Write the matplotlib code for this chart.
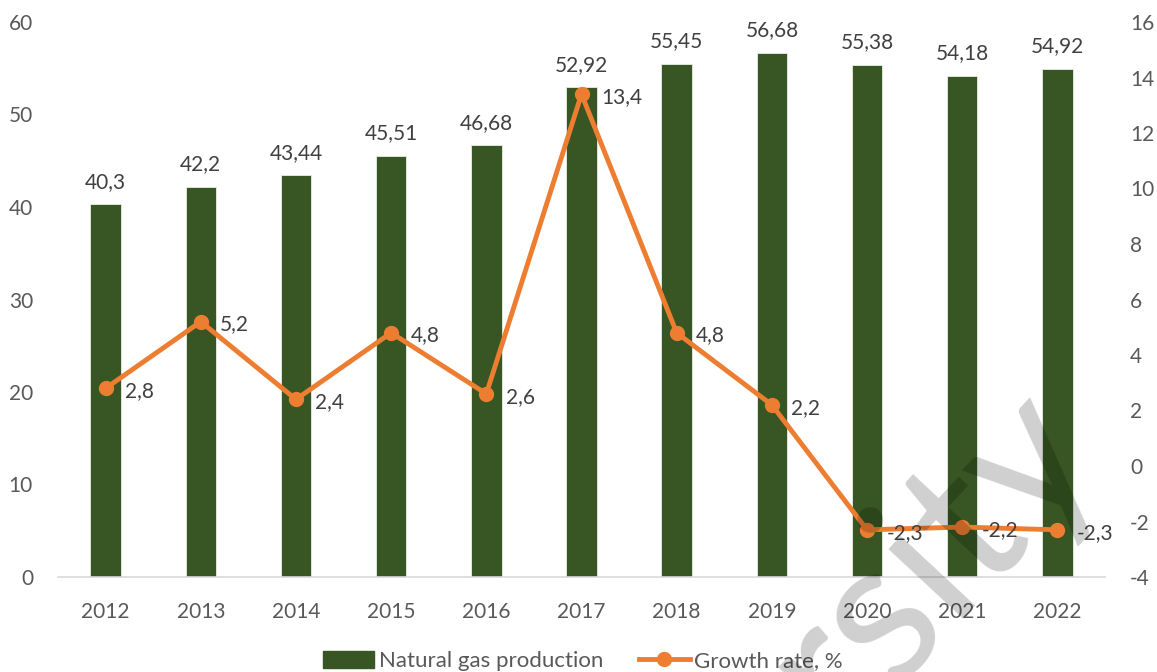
import matplotlib
matplotlib.use("Agg")
import matplotlib.pyplot as plt
from matplotlib.lines import Line2D
from matplotlib.patches import Patch

years = ["2012", "2013", "2014", "2015", "2016", "2017", "2018", "2019", "2020", "2021", "2022"]
production = [40.3, 42.2, 43.44, 45.51, 46.68, 52.92, 55.45, 56.68, 55.38, 54.18, 54.92]
growth = [2.8, 5.2, 2.4, 4.8, 2.6, 13.4, 4.8, 2.2, -2.3, -2.2, -2.3]
left_ticks = [0, 10, 20, 30, 40, 50, 60]
right_ticks = [-4, -2, 0, 2, 4, 6, 8, 10, 12, 14, 16]

def fmt(v):
    s = f"{v:.2f}".rstrip("0").rstrip(".")
    return s.replace(".", ",")

plt.rcParams['font.family'] = ['Lato', 'DejaVu Sans']
BAR = "#375623"
LINE = "#ED7D31"
TICK = "#595959"
LBL = "#404040"
FS = 15

fig = plt.figure(figsize=(11.57, 6.72), dpi=100)
ax = fig.add_axes([58/1157, 1-577/672, (1105-58)/1157, (577-22)/672])
x = list(range(len(years)))
ax.bar(x, production, width=0.32, color=BAR, edgecolor="#E8EDE4", linewidth=0.6, zorder=2)
ax.set_xlim(-0.5, len(years)-0.5)
ax.set_ylim(0, 60)
ax.set_yticks(left_ticks)
ax.set_yticklabels([str(t) for t in left_ticks])
ax.set_xticks(x)
ax.set_xticklabels(years)
for s in ["top", "right", "left"]:
    ax.spines[s].set_visible(False)
ax.spines["bottom"].set_color("#D9D9D9")
ax.spines["bottom"].set_linewidth(1.2)
ax.tick_params(axis="both", length=0, labelsize=FS, colors=TICK)
ax.tick_params(axis="x", pad=18)
ax.tick_params(axis="y", pad=18)
for xi, v in zip(x, production):
    ax.annotate(fmt(v), (xi, v), xytext=(0, 9), textcoords="offset points",
                ha="center", va="bottom", fontsize=FS, color=LBL, zorder=5)

ax2 = ax.twinx()
ax2.set_ylim(-4, 16)
ax2.set_yticks(right_ticks)
ax2.set_yticklabels([str(t) for t in right_ticks])
for s in ["top", "right", "left", "bottom"]:
    ax2.spines[s].set_visible(False)
ax2.tick_params(axis="y", length=0, labelsize=FS, colors=TICK, pad=18)
ax2.plot(x, growth, color=LINE, linewidth=3.5, marker="o", markersize=10, zorder=4)
for xi, v in zip(x, growth):
    ax2.annotate(fmt(v), (xi, v), xytext=(14, -2), textcoords="offset points",
                 ha="left", va="center", fontsize=FS, color=LBL, zorder=5)

handles = [Patch(facecolor=BAR, edgecolor=BAR),
           Line2D([0], [0], color=LINE, linewidth=3.5, marker="o", markersize=10)]
fig.legend(handles, ["Natural gas production", "Growth rate, %"], loc="center",
           bbox_to_anchor=(583/1157, 1-661/672), ncol=2, frameon=False,
           fontsize=16, labelcolor=TICK, handlelength=2.3, handleheight=0.8,
           handletextpad=0.2, columnspacing=1.6)

fig.text(895/1157, 1-600/672, "ersity", rotation=47, rotation_mode="anchor",
         ha="center", va="center", fontsize=145, color="black", alpha=0.19,
         zorder=10)

fig.savefig("out.png", dpi=100)
